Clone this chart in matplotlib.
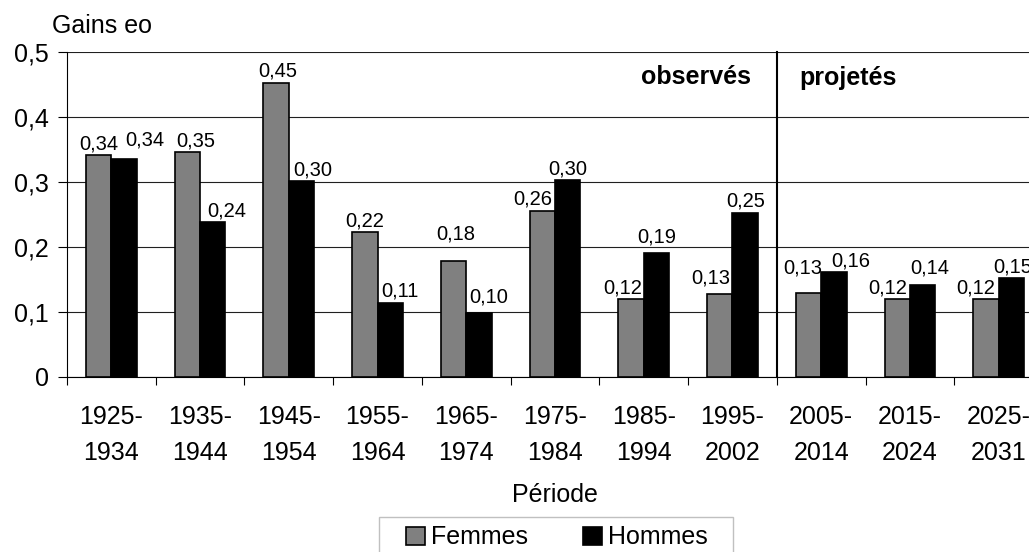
import matplotlib.pyplot as plt
from matplotlib.patches import Rectangle
from matplotlib.transforms import IdentityTransform
import numpy as np

plt.rcParams["font.family"] = ["Liberation Sans", "DejaVu Sans"]

periodes = ["1925-\n1934", "1935-\n1944", "1945-\n1954", "1955-\n1964", "1965-\n1974",
            "1975-\n1984", "1985-\n1994", "1995-\n2002", "2005-\n2014", "2015-\n2024",
            "2025-\n2031"]
femmes = [0.341, 0.346, 0.453, 0.223, 0.178, 0.256, 0.120, 0.128, 0.130, 0.120, 0.120]
hommes = [0.336, 0.238, 0.301, 0.114, 0.099, 0.303, 0.191, 0.253, 0.161, 0.142, 0.152]
y_ticks = [0, 0.1, 0.2, 0.3, 0.4, 0.5]

# label nudges in pixels (Excel moved some labels to avoid overlaps)
f_dx = [0, 8, 2, 0, 2, -10, -8, -9, -6, -10, -10]
f_dy = [0, 0, 0, 0, 16, 0, 0, 4, 13, 0, 0]
h_dx = [21, 14, 11, 10, 10, 0, 0, 1, 17, 7, 1]
h_dy = [7, 0, 0, 0, 4, 0, 4, 0, 0, 5, 0]

fs = 18
fs_lab = 14.5
fig = plt.figure(figsize=(10.29, 5.52), dpi=100)
ax = fig.add_axes([67 / 1029, 1 - 377 / 552, (1043 - 67) / 1029, (377 - 52) / 552])

x = np.arange(len(periodes))
w = 0.286
bf = ax.bar(x - w / 2, femmes, w, color="#808080", edgecolor="black", linewidth=1.2, zorder=3)
bh = ax.bar(x + w / 2, hommes, w, color="black", edgecolor="black", linewidth=1.2, zorder=3)


def fmt(v):
    return f"{v:.2f}".replace(".", ",")


for i in range(len(periodes)):
    ax.annotate(fmt(femmes[i]), xy=(x[i] - w / 2, femmes[i]), xytext=(f_dx[i], 6 + f_dy[i]),
                textcoords="offset pixels", ha="center", va="baseline", fontsize=fs_lab, zorder=5)
    ax.annotate(fmt(hommes[i]), xy=(x[i] + w / 2, hommes[i]), xytext=(h_dx[i], 6 + h_dy[i]),
                textcoords="offset pixels", ha="center", va="baseline", fontsize=fs_lab, zorder=5)

ax.set_xlim(-0.5, len(periodes) - 0.5)
ax.set_ylim(0, 0.5)

ax.set_yticks(y_ticks, labels=[fmt(t).rstrip("0").rstrip(",") if t else "0" for t in y_ticks])
ax.tick_params(axis="y", direction="out", length=6.3, width=0.8, pad=7, labelsize=fs)
ax.yaxis.grid(True, color="#202020", linewidth=0.8)
ax.set_axisbelow(True)

ax.set_xticks(np.arange(-0.5, len(periodes), 1))
ax.set_xticklabels([])
ax.tick_params(axis="x", which="major", direction="out", length=6, width=0.8)
ax.set_xticks(x, labels=periodes, minor=True, linespacing=1.65)
ax.tick_params(axis="x", which="minor", length=0, pad=20, labelsize=fs)

for s in ["top", "right"]:
    ax.spines[s].set_visible(False)
ax.spines["left"].set_linewidth(0.8)
ax.spines["bottom"].set_linewidth(0.8)

ax.plot([7.5, 7.5], [0, 0.5], color="black", linewidth=1.5, zorder=4, clip_on=False)
ax.annotate("observés", xy=(7.5, 0.45), xytext=(-26, 0), textcoords="offset pixels",
            ha="right", va="baseline", fontsize=fs, fontweight="bold")
ax.annotate("projetés", xy=(7.5, 0.45), xytext=(23, 0), textcoords="offset pixels",
            ha="left", va="baseline", fontsize=fs, fontweight="bold")

ax.set_xlabel("Période", fontsize=fs, labelpad=13)
fig.text(52 / 1029, 1 - 33 / 552, "Gains eo", ha="left", va="baseline", fontsize=fs)

leg = fig.legend(handles=[bf, bh], labels=["Femmes", "Hommes"], loc="center",
                 bbox_to_anchor=(556.7 / 1029, 1 - 537.5 / 552), ncol=2, frameon=False,
                 handlelength=0.75, handleheight=0.75, handletextpad=0.25,
                 columnspacing=2.2, borderpad=0, fontsize=fs)

fig.canvas.draw()
ext = leg.get_window_extent()
fig.add_artist(Rectangle((ext.x0 - 27, ext.y0 - 9), ext.width + 52, ext.height + 18,
                         transform=IdentityTransform(), fill=False,
                         edgecolor="#c0c0c0", linewidth=1))

fig.savefig("out.png", dpi=100)
